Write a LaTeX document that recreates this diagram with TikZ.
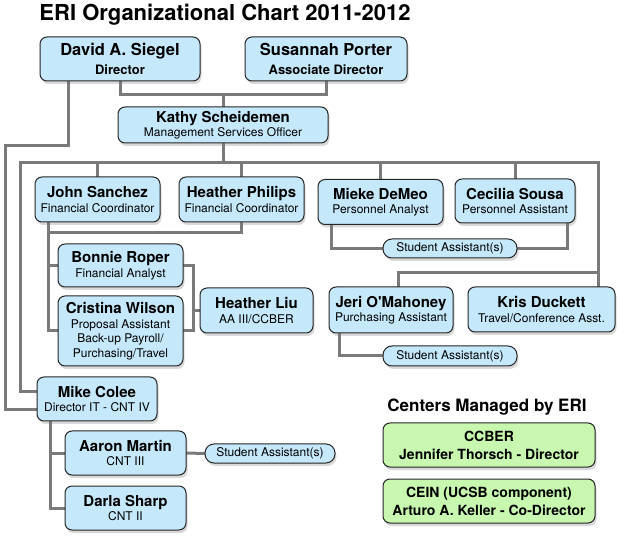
\documentclass[tikz,border=0pt]{standalone}
\usepackage{fontspec}
\setmainfont{TeX Gyre Heros}
\usepackage{xcolor}
\usepackage{tikz}
\usetikzlibrary{shadows,backgrounds}

\definecolor{staffblue}{RGB}{197,232,250}
\definecolor{centergreen}{RGB}{200,248,176}
\definecolor{linkgray}{RGB}{122,122,122}

\newcommand{\who}[1]{{\fontsize{15}{17}\selectfont\bfseries #1}}

\tikzset{
  person/.style={draw=black!85, line width=1pt, rounded corners=7pt, fill=staffblue,
    align=center, inner sep=1pt, outer sep=0pt,
    font=\fontsize{12}{14.5}\selectfont,
    drop shadow={shadow xshift=1.5pt, shadow yshift=-3pt, opacity=0.3}},
  helper/.style={person, rounded corners=9pt},
  centerbox/.style={person, fill=centergreen, font=\fontsize{14}{18}\selectfont\bfseries},
  link/.style={draw=linkgray, line width=3pt}
}

\begin{document}
\begin{tikzpicture}[x=1pt, y=-1pt]
  \useasboundingbox (0,0) rectangle (627,545);

  \node[font=\fontsize{22}{24}\selectfont\bfseries] (title) at (225,15) {ERI Organizational Chart 2011-2012};

  % top level
  \node[person, minimum width=160pt, minimum height=44pt, font=\fontsize{13}{19}\selectfont\bfseries]
    (siegel) at (120,59) {{\fontsize{16.5}{19}\selectfont David A. Siegel}\\ Director};
  \node[person, minimum width=162pt, minimum height=44pt, font=\fontsize{13}{19}\selectfont\bfseries]
    (porter) at (326,59) {{\fontsize{16.5}{19}\selectfont Susannah Porter}\\ Associate Director};
  \node[person, minimum width=210pt, minimum height=36pt] (kathy) at (223,125)
    {\who{Kathy Scheidemen}\\ Management Services Officer};

  % second row
  \node[person, minimum width=125pt, minimum height=45pt] (sanchez) at (97.5,199.5)
    {\who{John Sanchez}\\ Financial Coordinator};
  \node[person, minimum width=125pt, minimum height=45pt] (philips) at (241.5,199.5)
    {\who{Heather Philips}\\ Financial Coordinator};
  \node[person, minimum width=125pt, minimum height=45pt] (demeo) at (380.5,202)
    {\who{Mieke DeMeo}\\ Personnel Analyst};
  \node[person, minimum width=120pt, minimum height=44pt] (sousa) at (515,201)
    {\who{Cecilia Sousa}\\ Personnel Assistant};
  \node[helper, minimum width=134pt, minimum height=19pt] (sahr) at (450,248.5) {Student Assistant(s)};

  % finance
  \node[person, minimum width=125pt, minimum height=43pt] (roper) at (120.5,265.5)
    {\who{Bonnie Roper}\\ Financial Analyst};
  \node[person, minimum width=125pt, minimum height=70pt] (wilson) at (120.5,331)
    {\who{Cristina Wilson}\\ Proposal Assistant\\ Back-up Payroll/\\ Purchasing/Travel};
  \node[person, minimum width=113pt, minimum height=45pt] (liu) at (256.5,310.5)
    {\who{Heather Liu}\\ AA III/CCBER};

  % purchasing and travel
  \node[person, minimum width=124pt, minimum height=46pt] (omahoney) at (391,310)
    {\who{Jeri O\textquotesingle Mahoney}\\ Purchasing Assistant};
  \node[person, minimum width=147pt, minimum height=45pt] (duckett) at (541.5,309.5)
    {\who{Kris Duckett}\\ Travel/Conference Asst.};
  \node[helper, minimum width=134pt, minimum height=20pt] (sapur) at (450,356) {Student Assistant(s)};

  % IT
  \node[person, minimum width=120pt, minimum height=44pt] (colee) at (97,399)
    {\who{Mike Colee}\\ Director IT - CNT IV};
  \node[person, minimum width=121pt, minimum height=44pt] (martin) at (125.5,453)
    {\who{Aaron Martin}\\ CNT III};
  \node[person, minimum width=121pt, minimum height=44pt] (sharp) at (125.5,508)
    {\who{Darla Sharp}\\ CNT II};
  \node[helper, minimum width=130pt, minimum height=19pt] (sait) at (270,453.5) {Student Assistant(s)};

  % centers
  \node[font=\fontsize{17}{19}\selectfont\bfseries] (centers) at (487,407) {Centers Managed by ERI};
  \node[centerbox, minimum width=212pt, minimum height=44pt] (ccber) at (489,445)
    {CCBER\\ Jennifer Thorsch - Director};
  \node[centerbox, minimum width=212pt, minimum height=44pt] (cein) at (489,501)
    {CEIN (UCSB component)\\ Arturo A. Keller - Co-Director};

  % connectors
  \begin{scope}[on background layer]
    \draw[link] (siegel.south) -- ++(0,14) -| (porter.south);
    \draw[link] (kathy.north) -- ++(0,-12);
    \draw[link] ([xshift=-52pt]siegel.south) |- (5,146) |- ([yshift=-11pt]colee.west);
    \draw[link] (kathy.south) -- ++(0,20) coordinate (bus);
    \draw[link] ([yshift=7pt]colee.west) -| (20,163) -| ([xshift=-17pt]duckett.north east);
    \foreach \n in {sanchez,philips,demeo,sousa}
      \draw[link] (\n.north) -- (\n.north |- bus);
    \draw[link] ([xshift=7pt]omahoney.north) |- ([xshift=-17pt, yshift=14pt]duckett.north east);
    % finance branch
    \draw[link] ([xshift=13pt]sanchez.south west) |- (wilson.west);
    \draw[link] (philips.south) |- ([xshift=13pt, yshift=-11pt]sanchez.south west);
    \draw[link] (roper.west) -- ++(-10,0);
    \draw[link] (roper.east) -- ++(10,0) |- (wilson.east);
    \draw[link] (liu.west) -- ++(-7,0);
    % student assistants
    \draw[link] ([xshift=13pt]demeo.south west) |- (sahr.west);
    \draw[link] ([xshift=-8pt]sousa.south east) |- (sahr.east);
    \draw[link] ([xshift=10pt]omahoney.south west) |- (sapur.west);
    % IT branch
    \draw[link] ([xshift=13pt]colee.south west) |- (sharp.west);
    \draw[link] (martin.west) -- ++(-15,0);
    \draw[link] (martin.east) -- (sait.west);
  \end{scope}
\end{tikzpicture}
\end{document}
